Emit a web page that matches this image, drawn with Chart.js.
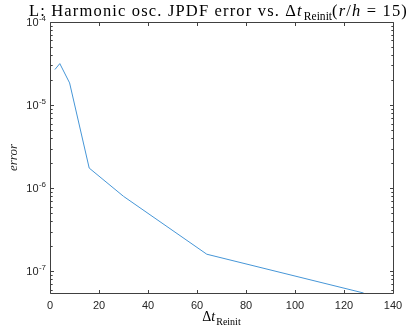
<!DOCTYPE html>
<html><head><meta charset="utf-8">
<script src="https://cdn.jsdelivr.net/npm/chart.js@4/dist/chart.umd.min.js"></script>
<style>html,body{margin:0;padding:0;background:#fff}canvas{display:block}</style>
</head><body>
<canvas id="c" width="420" height="328"></canvas>
<script>
const dtReinit = [2, 4, 8, 16, 30, 64, 128];
const errorValues = [2.68e-5, 3.16e-5, 1.85e-5, 1.75e-6, 8.0e-7, 1.61e-7, 5.5e-8];
const xTicks = [0, 20, 40, 60, 80, 100, 120, 140];
const yTickExponents = [-7, -6, -5, -4];
const titleMain = 'L: Harmonic osc. JPDF error vs. ';
const titleSub = 'Reinit';
const xLabelSub = 'Reinit';
const yLabel = 'error';

const AXIS = '#404040';
const TXT = '#262626';

const decor = {
  id: 'decor',
  afterDraw(chart) {
    const ctx = chart.ctx, a = chart.chartArea;
    const xs = chart.scales.x, ys = chart.scales.y;
    ctx.save();
    ctx.strokeStyle = AXIS; ctx.lineWidth = 1;
    const L = Math.round(a.left) + 0.5, R = Math.round(a.right) + 0.5, T = Math.round(a.top) + 0.5, B = Math.round(a.bottom) + 0.5;
    ctx.beginPath();
    ctx.rect(L, T, R - L, B - T);
    ctx.stroke();
    ctx.beginPath();
    xTicks.forEach(v => {
      const px = Math.round(xs.getPixelForValue(v)) + 0.5;
      ctx.moveTo(px, B); ctx.lineTo(px, B - 3.5);
      ctx.moveTo(px, T); ctx.lineTo(px, T + 3.5);
    });
    for (let n = -8; n <= -4; n++) {
      for (let k = 1; k <= 9; k++) {
        const v = k * Math.pow(10, n);
        if (v < ys.min * 0.999 || v > ys.max * 1.001) continue;
        const py = Math.round(ys.getPixelForValue(v)) + 0.5;
        const len = k === 1 ? 3.5 : 2.2;
        ctx.moveTo(L, py); ctx.lineTo(L + len, py);
        ctx.moveTo(R, py); ctx.lineTo(R - len, py);
      }
    }
    ctx.stroke();
    ctx.fillStyle = TXT;
    ctx.font = '11px "Liberation Sans", Arial, sans-serif';
    ctx.textAlign = 'center'; ctx.textBaseline = 'alphabetic';
    xTicks.forEach(v => {
      ctx.fillText(String(v), xs.getPixelForValue(v), a.bottom + 15.5);
    });
    yTickExponents.forEach(n => {
      const py = ys.getPixelForValue(Math.pow(10, n));
      ctx.font = '8px "Liberation Sans", Arial, sans-serif';
      const exp = '-' + String(Math.abs(n));
      const ew = ctx.measureText(exp).width;
      ctx.textAlign = 'left';
      const expX = a.left - 4 - ew;
      ctx.fillText(exp, expX, py - 1.5);
      ctx.font = '11px "Liberation Sans", Arial, sans-serif';
      ctx.textAlign = 'right';
      ctx.fillText('10', expX - 0.3, py + 4);
    });
    ctx.save();
    ctx.translate(17, (a.top + a.bottom) / 2);
    ctx.rotate(-Math.PI / 2);
    ctx.font = 'italic 13px "Liberation Serif", "DejaVu Serif", serif';
    ctx.textAlign = 'center';
    ctx.fillStyle = TXT;
    ctx.fillText(yLabel, 0, 0);
    ctx.restore();
    drawDeltaT(ctx, (a.left + a.right) / 2, 321, 14, 10, true);
    drawTitle(ctx);
    ctx.restore();
  }
};

function drawDeltaT(ctx, cx, base, size, subSize, center) {
  const f = '"Liberation Serif", "DejaVu Serif", serif';
  ctx.font = size + 'px ' + f;
  const wD = ctx.measureText('\u0394').width;
  ctx.font = 'italic ' + size + 'px ' + f;
  const wt = ctx.measureText('t').width;
  ctx.font = subSize + 'px ' + f;
  const ws = ctx.measureText(xLabelSub).width;
  const total = wD + wt + ws + 1;
  let x = center ? cx - total / 2 : cx;
  ctx.fillStyle = '#000';
  ctx.textAlign = 'left';
  ctx.font = size + 'px ' + f; ctx.fillText('\u0394', x, base); x += wD;
  ctx.font = 'italic ' + size + 'px ' + f; ctx.fillText('t', x, base); x += wt + 1;
  ctx.font = subSize + 'px ' + f; ctx.fillText(xLabelSub, x, base + size * 0.25); x += ws;
  return x;
}

function drawTitle(ctx) {
  const f = '"Liberation Serif", "DejaVu Serif", serif';
  const size = 16.5;
  const parts = [
    {t: titleMain, it: false, sub: false},
    {t: '\u0394', it: false, sub: false},
    {t: 't', it: true, sub: false},
    {t: titleSub, it: false, sub: true},
    {t: '(', it: false, sub: false},
    {t: 'r', it: true, sub: false},
    {t: '/', it: false, sub: false},
    {t: 'h', it: true, sub: false},
    {t: ' = 15)', it: false, sub: false}
  ];
  let w = 0, nChars = 0;
  parts.forEach(p => {
    const s = p.sub ? size * 0.7 : size;
    ctx.font = (p.it ? 'italic ' : '') + s + 'px ' + f;
    w += ctx.measureText(p.t).width + (p.sub ? 1 : 0);
    if (!p.sub) nChars += p.t.length;
  });
  const targetW = 379;
  const extra = Math.max(0, (targetW - w) / nChars);
  let x = 29;
  const base = 16;
  ctx.fillStyle = '#000';
  ctx.textAlign = 'left';
  parts.forEach(p => {
    const s = p.sub ? size * 0.7 : size;
    ctx.font = (p.it ? 'italic ' : '') + s + 'px ' + f;
    if (p.sub) x += 1;
    for (const ch of p.t) {
      ctx.fillText(ch, x, p.sub ? base + size * 0.22 : base);
      x += ctx.measureText(ch).width + (p.sub ? 0 : extra);
    }
  });
}

new Chart(document.getElementById('c'), {
  type: 'line',
  data: {
    labels: dtReinit,
    datasets: [{
      data: dtReinit.map((x, i) => ({x, y: errorValues[i]})),
      borderColor: 'rgb(70,150,215)',
      borderWidth: 1,
      pointRadius: 0,
      tension: 0,
      fill: false
    }]
  },
  options: {
    responsive: false,
    animation: false,
    devicePixelRatio: 1,
    layout: {padding: {left: 50, right: 27, top: 22, bottom: 35}},
    plugins: {legend: {display: false}, tooltip: {enabled: false}, title: {display: false}},
    scales: {
      x: {
        type: 'linear', min: 0, max: 140,
        ticks: {display: false}, grid: {display: false, drawTicks: false}, border: {display: false},
        afterFit(s) { s.height = 0; }
      },
      y: {
        type: 'logarithmic', min: 5.5e-8, max: 1e-4,
        ticks: {display: false}, grid: {display: false, drawTicks: false}, border: {display: false},
        afterFit(s) { s.width = 0; }
      }
    }
  },
  plugins: [decor]
});
</script>
</body></html>
